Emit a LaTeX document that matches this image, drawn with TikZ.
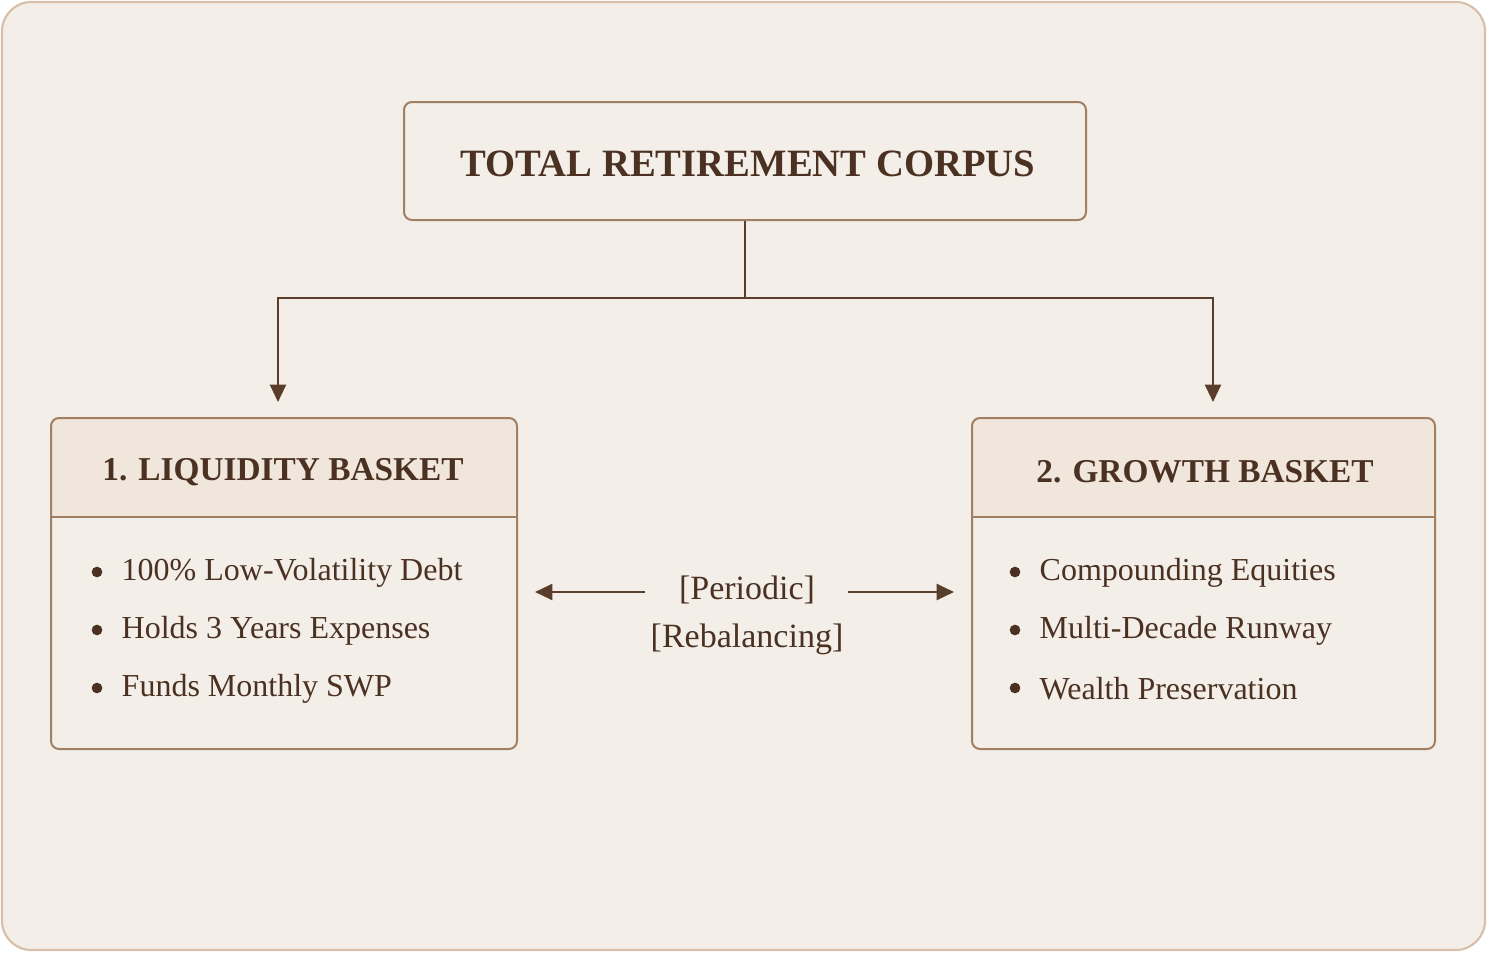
\documentclass[tikz,border=0pt]{standalone}
\usepackage{fontspec}
\setmainfont{Liberation Serif}
\usetikzlibrary{arrows.meta}
\definecolor{bgc}{HTML}{F4EEE8}
\definecolor{outerc}{HTML}{D8BFA9}
\definecolor{boxc}{HTML}{A07F63}
\definecolor{linec}{HTML}{5A3D2A}
\definecolor{txtc}{HTML}{4A3122}
\definecolor{headc}{HTML}{F0E6DC}
\begin{document}
\begin{tikzpicture}[x=0.75pt,y=-0.75pt,
  boxline/.style={draw=boxc,line width=1.5pt},
  conn/.style={draw=linec,line width=1.6pt},
  tip/.style={-{Triangle[length=13pt,width=12pt]}},
  headtxt/.style={text=txtc,font=\fontsize{25}{30}\selectfont\bfseries,anchor=center},
  bodytxt/.style={text=txtc,font=\fontsize{24}{29}\selectfont,anchor=west},
  dot/.style={circle,fill=txtc,inner sep=0pt,minimum size=8pt},
  midtxt/.style={text=txtc,font=\fontsize{25.5}{30}\selectfont,anchor=center}]
\useasboundingbox (0,0) rectangle (1488,953);
\path[fill=bgc,draw=outerc,line width=1.6pt,rounded corners=22pt] (2,2) rectangle (1485,950);
% top box
\node[draw=boxc,line width=1.5pt,rounded corners=6pt,fill=bgc,minimum width=682*0.75pt,minimum height=118*0.75pt,inner sep=0pt] (top) at (745,161) {};
\node[text=txtc,font=\fontsize{29}{34}\selectfont\bfseries] (toptxt) at (748,164) {TOTAL RETIREMENT CORPUS};
% left box
\path[fill=headc,rounded corners=6pt] (51,418) -- (517,418) -- (517,517) [sharp corners] -- (51,517) [rounded corners=6pt] -- cycle;
\node[draw=boxc,line width=1.5pt,rounded corners=6pt,minimum width=466*0.75pt,minimum height=331*0.75pt,inner sep=0pt] (left) at (284,583.5) {};
\draw[boxline] (51,517) -- (517,517);
\node[headtxt] (lh) at (283,472) {1. LIQUIDITY BASKET};
% right box
\path[fill=headc,rounded corners=6pt] (972,418) -- (1435,418) -- (1435,517) [sharp corners] -- (972,517) [rounded corners=6pt] -- cycle;
\node[draw=boxc,line width=1.5pt,rounded corners=6pt,minimum width=463*0.75pt,minimum height=331*0.75pt,inner sep=0pt] (right) at (1203.5,583.5) {};
\draw[boxline] (972,517) -- (1435,517);
\node[headtxt] (rh) at (1205,472) {2. GROWTH BASKET};
% bullets left
\node[dot] (ld1) at (97,572) {};
\node[dot] (ld2) at (97,630) {};
\node[dot] (ld3) at (97,688) {};
\node[bodytxt] (l1) at (117,573) {100\% Low-Volatility Debt};
\node[bodytxt] (l2) at (117,631) {Holds 3 Years Expenses};
\node[bodytxt] (l3) at (117,689) {Funds Monthly SWP};
% bullets right
\node[dot] (rd1) at (1015,572) {};
\node[dot] (rd2) at (1015,630) {};
\node[dot] (rd3) at (1015,688) {};
\node[bodytxt] (r1) at (1035,573) {Compounding Equities};
\node[bodytxt] (r2) at (1035,631) {Multi-Decade Runway};
\node[bodytxt] (r3) at (1035,689) {Wealth Preservation};
% connectors
\coordinate (j) at (745,298);
\coordinate (la) at (278,402);
\coordinate (ra) at (1213,402);
\draw[conn] (top.south) -- (j);
\draw[conn,tip] (j) -| (la);
\draw[conn,tip] (j) -| (ra);
% middle
\node[midtxt] (p) at (747,590) {[Periodic]};
\node[midtxt] (rb) at (747,639) {[Rebalancing]};
\coordinate (a1) at (645,592);
\coordinate (a2) at (535,592);
\coordinate (b1) at (848,592);
\coordinate (b2) at (954,592);
\draw[conn,tip] (a1) -- (a2);
\draw[conn,tip] (b1) -- (b2);
\end{tikzpicture}
\end{document}
